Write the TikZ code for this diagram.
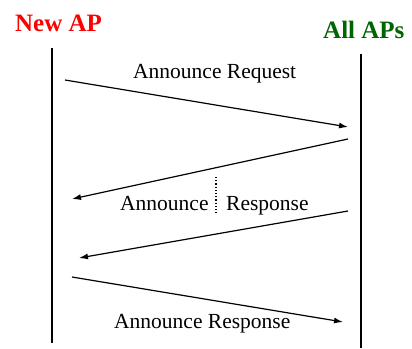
\documentclass[tikz,border=0pt]{standalone}
\usepackage{fontspec}
\setmainfont{Liberation Serif}
\usetikzlibrary{arrows.meta}
\definecolor{apgreen}{RGB}{0,100,0}
\begin{document}
\begin{tikzpicture}[x=1pt,y=-1pt,
  lifeline/.style={line width=2.6pt},
  msg/.style={line width=1.2pt,-{Latex[length=9pt,width=6pt]}},
  actor/.style={font=\bfseries\fontsize{25}{29}\selectfont,inner sep=0pt,anchor=base west},
  msglabel/.style={font=\fontsize{21.5}{25}\selectfont,inner sep=0pt,anchor=base west}]
\useasboundingbox (0,0) rectangle (412,348);
% actors
\node[actor,text=red] (newap) at (15,31) {New AP};
\node[actor,text=apgreen] (allaps) at (323,38) {All APs};
% lifelines
\coordinate (l0) at (52,48);  \coordinate (l1) at (52,343);
\coordinate (r0) at (361,54); \coordinate (r1) at (361,348);
\draw[lifeline] (l0) -- (l1);
\draw[lifeline] (r0) -- (r1);
% message end points
\coordinate (a1s) at (65,80);   \coordinate (a1e) at (348,127);
\coordinate (a2s) at (348,139); \coordinate (a2e) at (72,199);
\coordinate (a3s) at (348,211); \coordinate (a3e) at (79,258);
\coordinate (a4s) at (72,277);  \coordinate (a4e) at (343,322);
\draw[msg] (a1s) -- (a1e);
\draw[msg] (a2s) -- (a2e);
\draw[msg] (a3s) -- (a3e);
\draw[msg] (a4s) -- (a4e);
% labels
\node[msglabel] (req) at (133,78) {Announce Request};
\node[msglabel] (resp1a) at (120,210) {Announce};
\node[msglabel] (resp1b) at (226,210) {Response};
\coordinate (d0) at (216,177); \coordinate (d1) at (216,214);
\draw[line width=1.2pt,dotted] (d0) -- (d1);
\node[msglabel] (resp2) at (114,328) {Announce Response};
\end{tikzpicture}
\end{document}
